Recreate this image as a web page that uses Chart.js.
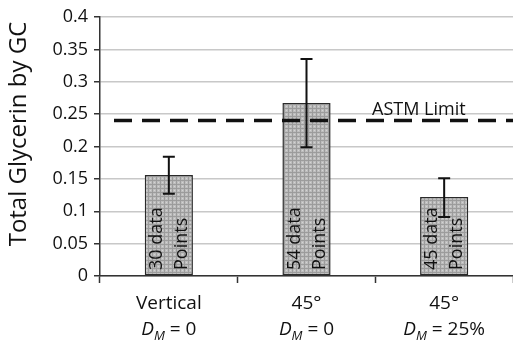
<!DOCTYPE html>
<html>
<head>
<meta charset="utf-8">
<script src="https://cdn.jsdelivr.net/npm/chart.js@4/dist/chart.umd.min.js"></script>
<style>
  html, body { margin: 0; padding: 0; background: #fff; }
  #wrap { width: 513px; height: 344px; }
</style>
</head>
<body>
<div id="wrap"><canvas id="chart"></canvas></div>
<script>
// data
const categories = ["Vertical", "45°", "45°"];
const dmLabels = ["0", "0", "25%"];
const glycerin = [0.156, 0.267, 0.122];
const errPlus = [0.028, 0.068, 0.029];
const errMinus = [0.029, 0.068, 0.031];
const pointCounts = ["30", "54", "45"];
const astmLimit = 0.24;
const yTicks = [0, 0.05, 0.1, 0.15, 0.2, 0.25, 0.3, 0.35, 0.4];

const FONT = "'Open Sans', sans-serif";

// grey speckled fill like the original bars
function barPattern() {
  const c = document.createElement("canvas");
  c.width = 4;
  c.height = 4;
  const g = c.getContext("2d");
  g.fillStyle = "#bdbdbd";
  g.fillRect(0, 0, 4, 4);
  g.fillStyle = "#9c9c9c";
  g.fillRect(0, 0, 4, 1);
  g.fillRect(0, 0, 1, 4);
  g.fillStyle = "#d4d4d4";
  g.fillRect(2, 2, 1, 1);
  return g.createPattern(c, "repeat");
}

const extras = {
  id: "extras",
  afterDatasetsDraw(chart) {
    const ctx = chart.ctx;
    const x = chart.scales.x;
    const y = chart.scales.y;
    const area = chart.chartArea;
    const meta = chart.getDatasetMeta(0);

    ctx.save();
    ctx.fillStyle = "#111";

    // y axis title
    ctx.save();
    ctx.translate(19, 134);
    ctx.rotate(-Math.PI / 2);
    ctx.font = "24px " + FONT;
    ctx.textAlign = "center";
    ctx.textBaseline = "middle";
    ctx.fillText("Total Glycerin by GC", 0, 0);
    ctx.restore();

    // labels inside bars
    ctx.font = "18px " + FONT;
    ctx.textBaseline = "middle";
    ctx.textAlign = "left";
    meta.data.forEach((bar, i) => {
      ctx.save();
      ctx.translate(bar.x, y.getPixelForValue(0) - 6);
      ctx.rotate(-Math.PI / 2);
      ctx.fillText(pointCounts[i] + " data", 0, -12);
      ctx.fillText("Points", 0, 13);
      ctx.restore();
    });

    // error bars
    ctx.strokeStyle = "#111";
    ctx.lineWidth = 2;
    meta.data.forEach((bar, i) => {
      const top = y.getPixelForValue(glycerin[i] + errPlus[i]);
      const bot = y.getPixelForValue(glycerin[i] - errMinus[i]);
      ctx.beginPath();
      ctx.moveTo(bar.x, top);
      ctx.lineTo(bar.x, bot);
      ctx.moveTo(bar.x - 6, top);
      ctx.lineTo(bar.x + 6, top);
      ctx.moveTo(bar.x - 6, bot);
      ctx.lineTo(bar.x + 6, bot);
      ctx.stroke();
    });

    // ASTM limit
    const ly = y.getPixelForValue(astmLimit);
    ctx.setLineDash([18, 10]);
    ctx.lineWidth = 3.5;
    ctx.beginPath();
    ctx.moveTo(area.left + 14, ly);
    ctx.lineTo(chart.width, ly);
    ctx.stroke();
    ctx.setLineDash([]);
    ctx.font = "18px " + FONT;
    ctx.textBaseline = "bottom";
    ctx.fillText("ASTM Limit", 372, ly - 2);

    // category labels, second line with italic D and subscript M
    ctx.textBaseline = "alphabetic";
    categories.forEach((cat, i) => {
      const cx = x.getPixelForValue(i);
      ctx.font = "19px " + FONT;
      ctx.textAlign = "center";
      ctx.fillText(cat, cx, 309);

      const parts = [
        { t: "D", f: "italic 19px " + FONT, dy: 0 },
        { t: "M", f: "italic 13px " + FONT, dy: 5 },
        { t: " = " + dmLabels[i], f: "19px " + FONT, dy: 0 }
      ];
      let w = 0;
      parts.forEach(p => { ctx.font = p.f; w += ctx.measureText(p.t).width; });
      let px = cx - w / 2;
      ctx.textAlign = "left";
      parts.forEach(p => {
        ctx.font = p.f;
        ctx.fillText(p.t, px, 335 + p.dy);
        px += ctx.measureText(p.t).width;
      });
    });
    ctx.restore();
  }
};

new Chart(document.getElementById("chart"), {
  type: "bar",
  data: {
    labels: categories,
    datasets: [{
      data: glycerin,
      backgroundColor: barPattern(),
      borderColor: "#2a2a2a",
      borderWidth: 1.5,
      borderSkipped: false,
      barPercentage: 0.35,
      categoryPercentage: 1
    }]
  },
  options: {
    responsive: true,
    maintainAspectRatio: false,
    animation: false,
    layout: { padding: { top: 17, right: 0, left: 0, bottom: 0 } },
    plugins: {
      legend: { display: false },
      tooltip: { enabled: false }
    },
    scales: {
      x: {
        grid: {
          offset: true,
          drawOnChartArea: false,
          drawTicks: true,
          tickLength: 7,
          tickColor: "#333",
          tickWidth: 1.5
        },
        border: { color: "#333", width: 1.5 },
        ticks: { display: false },
        afterFit(scale) { scale.height = 68; }
      },
      y: {
        min: 0,
        max: 0.4,
        afterBuildTicks(scale) {
          scale.ticks = yTicks.map(v => ({ value: v }));
        },
        grid: {
          color: "#c8c8c8",
          lineWidth: 1.5,
          tickLength: 6,
          tickColor: "#333"
        },
        border: { color: "#333", width: 1.5 },
        ticks: {
          color: "#111",
          font: { family: FONT, size: 18 },
          padding: 6,
          callback: v => String(v)
        },
        afterFit(scale) { scale.width = 100; }
      }
    }
  },
  plugins: [extras]
});
</script>
</body>
</html>
